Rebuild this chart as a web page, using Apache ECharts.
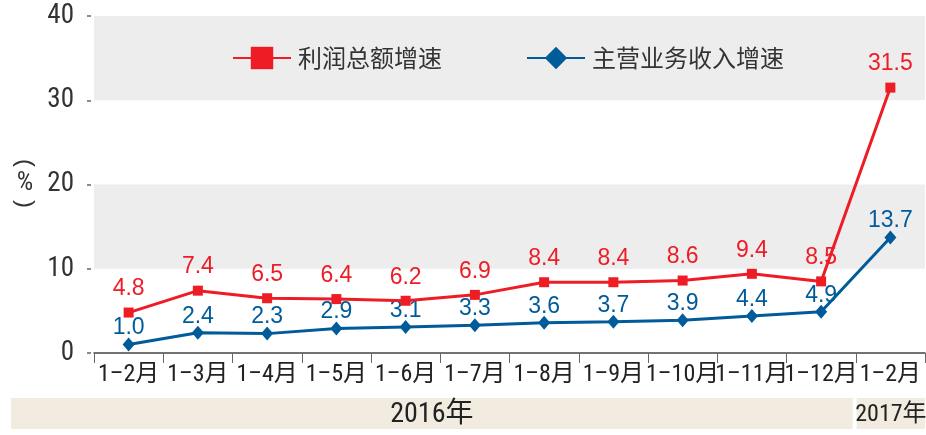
<!DOCTYPE html>
<html>
<head>
<meta charset="utf-8">
<script src="https://cdn.jsdelivr.net/npm/echarts@6/dist/echarts.min.js"></script>
<style>
html,body{margin:0;padding:0;background:#fff;}
#c{width:926px;height:435px;}
</style>
</head>
<body>
<div id="c"></div>
<script>
const categories = ['1–2月','1–3月','1–4月','1–5月','1–6月','1–7月','1–8月','1–9月','1–10月','1–11月','1–12月','1–2月'];
const profitGrowth = [4.8, 7.4, 6.5, 6.4, 6.2, 6.9, 8.4, 8.4, 8.6, 9.4, 8.5, 31.5];
const revenueGrowth = [1.0, 2.4, 2.3, 2.9, 3.1, 3.3, 3.6, 3.7, 3.9, 4.4, 4.9, 13.7];
const seriesNames = ['利润总额增速', '主营业务收入增速'];
const yearLabels = ['2016年', '2017年'];
const yTicks = {min: 0, max: 40, interval: 10};
const unitLabel = '%';

const RED = '#ee1c25', BLUE = '#005b9a';
const NARROW = '"Roboto Condensed", "Noto Sans CJK SC", sans-serif';
const SANS = '"Liberation Sans", "Noto Sans CJK SC", sans-serif';
const CJK = '"Noto Sans CJK SC", sans-serif';

const chart = echarts.init(document.getElementById('c'), null, {renderer: 'canvas'});
const option = {
  animation: false,
  backgroundColor: '#fff',
  grid: {left: 94, right: 1, top: 16, bottom: 82, containLabel: false},
  legend: {
    left: 232, top: 46, padding: 0,
    itemWidth: 58, itemHeight: 28, itemGap: 84,
    textStyle: {fontFamily: CJK, fontSize: 24, color: '#333', padding: [0, 0, 0, 2]},
    data: seriesNames
  },
  xAxis: {
    type: 'category',
    data: categories,
    boundaryGap: true,
    axisLine: {lineStyle: {color: '#444', width: 1.5}},
    axisTick: {show: true, length: 10, lineStyle: {color: '#666', width: 1}},
    axisLabel: {fontFamily: NARROW, fontSize: 24, color: '#222', margin: 10, interval: 0}
  },
  yAxis: {
    type: 'value',
    min: yTicks.min, max: yTicks.max, interval: yTicks.interval,
    offset: 3,
    axisLine: {show: false},
    axisTick: {show: true, length: 4, lineStyle: {color: '#666', width: 1.5}},
    axisLabel: {fontFamily: NARROW, fontSize: 27, color: '#333', margin: 17},
    splitLine: {show: false},
    splitArea: {show: true, areaStyle: {color: ['rgba(255,255,255,0)', '#ededed']}}
  },
  series: [
    {
      name: seriesNames[0], type: 'line', data: profitGrowth,
      symbol: 'rect', symbolSize: [10, 10],
      lineStyle: {color: RED, width: 3},
      itemStyle: {color: RED},
      label: {show: true, position: 'top', distance: 7, color: RED, fontFamily: SANS, fontSize: 23,
        formatter: p => p.value.toFixed(1)},
      z: 3
    },
    {
      name: seriesNames[1], type: 'line', data: revenueGrowth,
      symbol: 'diamond', symbolSize: [12, 14],
      lineStyle: {color: BLUE, width: 3},
      itemStyle: {color: BLUE},
      label: {show: true, position: 'top', distance: -2, color: BLUE, fontFamily: SANS, fontSize: 23,
        formatter: p => p.value.toFixed(1)},
      z: 2
    }
  ]
};
chart.setOption(option);

const xs = categories.map((c, i) => chart.convertToPixel({xAxisIndex: 0}, i));
const split = (xs[10] + xs[11]) / 2;
const bandTop = 398, bandH = 31;
chart.setOption({
  graphic: [
    {type: 'rect', shape: {x: 11, y: bandTop, width: split - 3 - 11, height: bandH}, style: {fill: '#f2ebe0'}, silent: true},
    {type: 'rect', shape: {x: split + 1, y: bandTop, width: 925 - split - 1, height: bandH}, style: {fill: '#f2ebe0'}, silent: true},
    {type: 'text', x: (11 + split - 3) / 2, y: bandTop + bandH / 2 + 1,
      style: {text: yearLabels[0], font: '28px ' + NARROW, fill: '#222', align: 'center', verticalAlign: 'middle'}},
    {type: 'text', x: (split + 1 + 925) / 2, y: bandTop + bandH / 2 + 1,
      style: {text: yearLabels[1], font: '24px ' + NARROW, fill: '#222', align: 'center', verticalAlign: 'middle'}},
    {type: 'text', x: 25, y: 163, rotation: -Math.PI / 2,
      style: {text: '(', font: '24px ' + SANS, fill: '#333', align: 'center', verticalAlign: 'middle'}},
    {type: 'text', x: 25, y: 183,
      style: {text: unitLabel, font: '26px ' + NARROW, fill: '#333', align: 'center', verticalAlign: 'middle'}},
    {type: 'text', x: 25, y: 204, rotation: -Math.PI / 2,
      style: {text: ')', font: '24px ' + SANS, fill: '#333', align: 'center', verticalAlign: 'middle'}}
  ]
});
</script>
</body>
</html>
